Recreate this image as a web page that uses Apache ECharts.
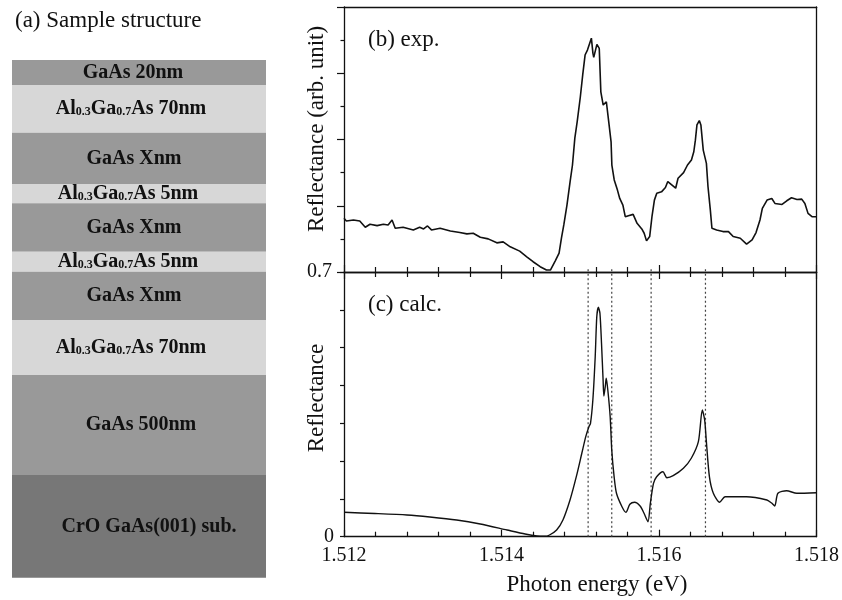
<!DOCTYPE html>
<html>
<head>
<meta charset="utf-8">
<title>Reflectance spectra</title>
<script src="https://cdn.jsdelivr.net/npm/echarts@6.0.0/dist/echarts.min.js"></script>
<style>
  html, body { margin: 0; padding: 0; background: #fff; }
  #chart { width: 842px; height: 600px; }
</style>
</head>
<body>
<div id="chart"></div>
<script>
// (b) experimental spectrum
const expEnergy = [
  1.51200, 1.51203, 1.51212, 1.51220, 1.51227, 1.51233, 1.51242, 1.51250, 1.51256, 1.51261,
  1.51265, 1.51275, 1.51288, 1.51296, 1.51301, 1.51306, 1.51311, 1.51322, 1.51335, 1.51347,
  1.51356, 1.51364, 1.51373, 1.51383, 1.51394, 1.51402, 1.51411, 1.51423, 1.51432, 1.51440,
  1.51449, 1.51457, 1.51462, 1.51468, 1.51473, 1.51476, 1.51479, 1.51483, 1.51487, 1.51490,
  1.51493, 1.51496, 1.51500, 1.51503, 1.51506, 1.51509, 1.51511, 1.51514, 1.51516, 1.51517,
  1.51521, 1.51524, 1.51526, 1.51529, 1.51533, 1.51536, 1.51539, 1.51540, 1.51543, 1.51547,
  1.51550, 1.51554, 1.51557, 1.51561, 1.51567, 1.51572, 1.51578, 1.51581, 1.51584, 1.51588,
  1.51591, 1.51594, 1.51597, 1.51603, 1.51608, 1.51611, 1.51616, 1.51621, 1.51624, 1.51631,
  1.51636, 1.51641, 1.51644, 1.51646, 1.51648, 1.51651, 1.51653, 1.51656, 1.51660, 1.51662,
  1.51665, 1.51667, 1.51673, 1.51681, 1.51688, 1.51694, 1.51703, 1.51711, 1.51718, 1.51723,
  1.51728, 1.51731, 1.51737, 1.51743, 1.51747, 1.51756, 1.51762, 1.51768, 1.51775, 1.51781,
  1.51785, 1.51789, 1.51794, 1.51800
];
const expRefl = [
  0.862, 0.854, 0.857, 0.854, 0.835, 0.844, 0.840, 0.844, 0.842, 0.857,
  0.832, 0.835, 0.827, 0.835, 0.830, 0.839, 0.827, 0.832, 0.824, 0.819,
  0.815, 0.817, 0.805, 0.800, 0.788, 0.791, 0.776, 0.763, 0.746, 0.731,
  0.716, 0.706, 0.706, 0.733, 0.757, 0.802, 0.842, 0.902, 0.973, 1.023,
  1.104, 1.154, 1.229, 1.295, 1.355, 1.370, 1.365, 1.406, 1.360, 1.348,
  1.387, 1.375, 1.244, 1.204, 1.214, 1.154, 1.093, 1.023, 0.978, 0.948,
  0.922, 0.902, 0.867, 0.870, 0.874, 0.847, 0.830, 0.817, 0.794, 0.807,
  0.869, 0.917, 0.938, 0.942, 0.955, 0.973, 0.963, 0.953, 0.983, 1.000,
  1.023, 1.038, 1.063, 1.098, 1.144, 1.157, 1.144, 1.068, 1.028, 0.958,
  0.887, 0.832, 0.827, 0.822, 0.822, 0.807, 0.802, 0.784, 0.797, 0.819,
  0.857, 0.892, 0.917, 0.922, 0.907, 0.904, 0.915, 0.924, 0.919, 0.920,
  0.907, 0.877, 0.867, 0.867
];

// (c) calculated spectrum
const calcEnergy = [
  1.51200, 1.51239, 1.51280, 1.51309, 1.51343, 1.51373, 1.51407, 1.51430, 1.51445, 1.51455,
  1.51461, 1.51470, 1.51478, 1.51487, 1.51495, 1.51502, 1.51507, 1.51511, 1.51513, 1.51516,
  1.51519, 1.51521, 1.51523, 1.51525, 1.51527, 1.51529, 1.51530, 1.51532, 1.51533, 1.51535,
  1.51538, 1.51540, 1.51543, 1.51546, 1.51553, 1.51558, 1.51563, 1.51569, 1.51576, 1.51581,
  1.51586, 1.51589, 1.51593, 1.51597, 1.51605, 1.51610, 1.51618, 1.51631, 1.51641, 1.51650,
  1.51655, 1.51658, 1.51660, 1.51664, 1.51669, 1.51677, 1.51684, 1.51711, 1.51737, 1.51743,
  1.51747, 1.51751, 1.51762, 1.51775, 1.51800
];
const calcRefl = [
  0.0645, 0.0614, 0.0574, 0.0521, 0.0442, 0.0336, 0.0177, 0.0071, 0.0019, 0.0011,
  0.0045, 0.0177, 0.0442, 0.0971, 0.1587, 0.2206, 0.2645, 0.2909, 0.2999, 0.3615,
  0.4761, 0.5819, 0.6067, 0.5908, 0.5115, 0.4144, 0.3721, 0.4012, 0.4189, 0.3880,
  0.3174, 0.2293, 0.1587, 0.1148, 0.0793, 0.0645, 0.0857, 0.0910, 0.0812, 0.0619,
  0.0397, 0.0883, 0.1412, 0.1587, 0.1719, 0.1560, 0.1613, 0.1809, 0.2074, 0.2513,
  0.3351, 0.3086, 0.2558, 0.1587, 0.1148, 0.0910, 0.1058, 0.1058, 0.0971, 0.0891,
  0.0812, 0.1148, 0.1217, 0.1148, 0.1164
];

// dotted guide lines (eV)
const markerEnergy = [1.51510, 1.51540, 1.51590, 1.51659];

// (a) sample structure, top to bottom
const layerNames = [
  'GaAs 20nm', 'AlGa70', 'GaAs Xnm', 'AlGa5', 'GaAs Xnm', 'AlGa5', 'GaAs Xnm', 'AlGa70',
  'GaAs 500nm', 'CrO GaAs(001) sub.'
];
const layerMaterial = ['g', 'a', 'g', 'a', 'g', 'a', 'g', 'a', 'g', 's'];

const serif = '"Liberation Serif", "DejaVu Serif", serif';
const shade = { g: '#999999', a: '#d7d7d7', s: '#777777' };
// layer edges in px (y), text centre x
const layerEdges = [60, 85, 132.7, 184, 203.3, 251.7, 271.7, 320, 375, 475, 577.7];
const layerTextX = [133, 131, 134, 128, 134, 128, 134, 131, 141, 149];

function layerText(name) {
  if (name === 'AlGa70') return '{t|Al}{s|0.3}{t|Ga}{s|0.7}{t|As 70nm}';
  if (name === 'AlGa5') return '{t|Al}{s|0.3}{t|Ga}{s|0.7}{t|As 5nm}';
  return '{t|' + name + '}';
}

const graphics = [];
layerNames.forEach((name, i) => {
  const y0 = layerEdges[i], y1 = layerEdges[i + 1];
  graphics.push({
    type: 'rect', silent: true,
    shape: { x: 12, y: y0, width: 254, height: y1 - y0 },
    style: { fill: shade[layerMaterial[i]] }
  });
  graphics.push({
    type: 'text', silent: true, z: 10,
    x: layerTextX[i], y: (y0 + y1) / 2,
    style: {
      text: layerText(name), align: 'center', verticalAlign: 'middle',
      rich: {
        t: { fontFamily: serif, fontWeight: 'bold', fontSize: 20, fill: '#111', lineHeight: 20, verticalAlign: 'bottom' },
        s: { fontFamily: serif, fontWeight: 'bold', fontSize: 12, fill: '#111', lineHeight: 20, verticalAlign: 'bottom', padding: [0, 0, 1, 0] }
      }
    }
  });
});
const plainText = (txt, x, y) => ({
  type: 'text', silent: true, x: x, y: y,
  style: { text: txt, fontFamily: serif, fontSize: 23, fill: '#111', align: 'left', verticalAlign: 'middle' }
});
graphics.push(plainText('(a) Sample structure', 15, 21));
graphics.push(plainText('(b) exp.', 368, 40));
graphics.push(plainText('(c) calc.', 368, 305));
graphics.push({ type: 'text', silent: true, x: 317, y: 129, rotation: Math.PI / 2,
  style: { text: 'Reflectance (arb. unit)', fontFamily: serif, fontSize: 23, fill: '#111', align: 'center', verticalAlign: 'middle' } });
graphics.push({ type: 'text', silent: true, x: 317, y: 398, rotation: Math.PI / 2,
  style: { text: 'Reflectance', fontFamily: serif, fontSize: 23, fill: '#111', align: 'center', verticalAlign: 'middle' } });
graphics.push({ type: 'text', silent: true, x: 597, y: 585,
  style: { text: 'Photon energy (eV)', fontFamily: serif, fontSize: 23, fill: '#111', align: 'center', verticalAlign: 'middle' } });

const axisLine = { show: true, onZero: false, lineStyle: { color: '#111', width: 1.3 } };
const xBase = {
  type: 'value', min: 1.512, max: 1.518, interval: 0.002,
  axisLine: axisLine, splitLine: { show: false },
  axisTick: { show: true, inside: true, length: 7, lineStyle: { color: '#111', width: 1.2 } },
  minorTick: { show: true, splitNumber: 5, length: 5, lineStyle: { color: '#111', width: 1.2 } },
  axisLabel: { show: false }
};
const frameOnly = (extra) => Object.assign({
  type: 'value', axisLine: axisLine, axisTick: { show: false }, axisLabel: { show: false },
  splitLine: { show: false }
}, extra);

// dotted vertical guides as small two-point line series on the calc axes
const guideSeries = markerEnergy.map(v => ({
  type: 'line', xAxisIndex: 1, yAxisIndex: 1, silent: true, clip: false,
  data: [[v, 0], [v, 0.711]], showSymbol: false, z: 1,
  lineStyle: { type: [2, 2.5], color: '#444', width: 1.2 }
}));

const chart = echarts.init(document.getElementById('chart'), null, { renderer: 'canvas' });
chart.setOption({
  backgroundColor: '#fff',
  animation: false,
  grid: [
    { left: 344, top: 7, width: 472.7, height: 265 },
    { left: 344, top: 272, width: 472.7, height: 264.7 }
  ],
  xAxis: [
    Object.assign({}, xBase, { gridIndex: 0, position: 'bottom' }),
    Object.assign({}, xBase, {
      gridIndex: 1, position: 'bottom',
      axisLabel: { show: true, margin: 9, fontFamily: serif, fontSize: 20, color: '#111',
        formatter: v => v.toFixed(3) }
    }),
    Object.assign({}, xBase, { gridIndex: 1, position: 'top' }),
    frameOnly({ gridIndex: 0, position: 'top', min: 1.512, max: 1.518 })
  ],
  yAxis: [
    {
      type: 'value', gridIndex: 0, min: 0.7, max: 1.5, interval: 0.2,
      axisLine: axisLine, splitLine: { show: false },
      axisTick: { show: true, length: 7, lineStyle: { color: '#111', width: 1.2 } },
      minorTick: { show: true, splitNumber: 2, length: 3.5, lineStyle: { color: '#111', width: 1.2 } },
      axisLabel: { margin: 12, fontFamily: serif, fontSize: 20, color: '#111',
        formatter: v => (Math.abs(v - 0.7) < 1e-9 ? '0.7' : '') }
    },
    {
      type: 'value', gridIndex: 1, min: 0, max: 0.7, interval: 0.1,
      axisLine: axisLine, splitLine: { show: false },
      axisTick: { show: true, length: 4, lineStyle: { color: '#111', width: 1.2 } },
      axisLabel: { margin: 10, fontFamily: serif, fontSize: 20, color: '#111',
        formatter: v => (Math.abs(v) < 1e-9 ? '0' : '') }
    },
    frameOnly({ gridIndex: 0, position: 'right', min: 0.7, max: 1.5 }),
    frameOnly({ gridIndex: 1, position: 'right', min: 0, max: 0.7 })
  ],
  series: [
    {
      name: 'exp.', type: 'line', xAxisIndex: 0, yAxisIndex: 0,
      data: expEnergy.map((e, i) => [e, expRefl[i]]),
      showSymbol: false, smooth: false,
      lineStyle: { color: '#111', width: 1.6 }
    },
    {
      name: 'calc.', type: 'line', xAxisIndex: 1, yAxisIndex: 1,
      data: calcEnergy.map((e, i) => [e, calcRefl[i]]),
      showSymbol: false, smooth: 0.25, z: 3,
      lineStyle: { color: '#111', width: 1.4 }
    }
  ].concat(guideSeries),
  graphic: graphics
});
</script>
</body>
</html>
